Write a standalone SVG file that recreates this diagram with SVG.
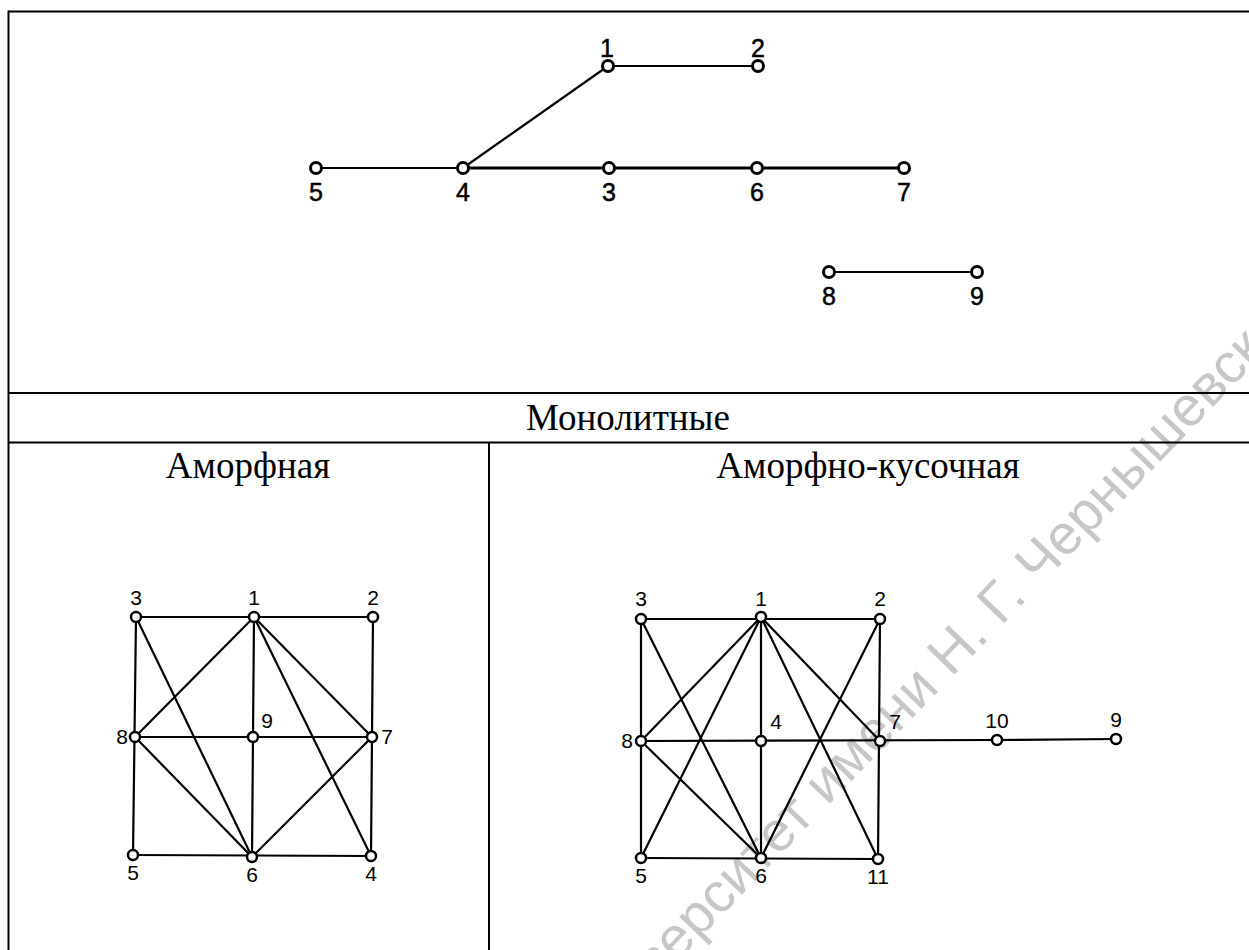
<svg xmlns="http://www.w3.org/2000/svg" width="1249" height="950" viewBox="0 0 1249 950">
<style>
.frame{stroke:#000;stroke-width:2;fill:none}
.e{stroke:#000;stroke-width:2.2;fill:none;stroke-linecap:round}
.et{stroke:#000;stroke-width:3.2;fill:none}
.n{fill:#fff;stroke:#000;stroke-width:2.5}
.nt{fill:#fff;stroke:#000;stroke-width:3}
.lt{font-family:"Liberation Sans",Arial,sans-serif;font-size:25px;fill:#000;text-anchor:middle;stroke:#000;stroke-width:0.5}
.lb{font-family:"Liberation Sans",Arial,sans-serif;font-size:21px;fill:#000;text-anchor:middle}
.h{font-family:"Liberation Serif","Times New Roman",serif;font-size:37px;fill:#000;text-anchor:middle}
.wm{font-family:"Liberation Sans",Arial,sans-serif;font-size:56px;fill:#c6c6c6}
</style>
<rect width="1249" height="950" fill="#fff"/>
<text class="wm" transform="translate(590,1052) rotate(-46)">Университет имени Н. Г. Чернышевского</text>
<g id="table" class="frame">
<line x1="8.5" y1="11.5" x2="1249" y2="11.5"/>
<line x1="8.5" y1="10.5" x2="8.5" y2="950"/>
<line x1="8.5" y1="393" x2="1249" y2="393"/>
<line x1="8.5" y1="442.5" x2="1249" y2="442.5"/>
<line x1="489" y1="442.5" x2="489" y2="950"/>
</g>
<g id="headers">
<text class="h" x="628" y="430">Монолитные</text>
<text class="h" x="248" y="478">Аморфная</text>
<text class="h" x="868" y="478">Аморфно-кусочная</text>
</g>
<g id="connectors">
<g id="top-edges">
<line class="e" x1="608" y1="66" x2="758" y2="66"/>
<line class="e" x1="463" y1="168" x2="608" y2="66"/>
<line class="e" x1="316" y1="168" x2="463" y2="168"/>
<line class="et" x1="463" y1="168" x2="904" y2="168"/>
<line class="e" x1="829" y1="272" x2="977" y2="272"/>
</g>
<g id="left-edges">
<line class="e" x1="136" y1="617" x2="373" y2="617"/>
<line class="e" x1="373" y1="617" x2="371" y2="856"/>
<line class="e" x1="136" y1="617" x2="133" y2="855"/>
<line class="e" x1="133" y1="855" x2="371" y2="856"/>
<line class="e" x1="135" y1="737" x2="372" y2="737"/>
<line class="e" x1="254" y1="617" x2="252" y2="857"/>
<line class="e" x1="254" y1="617" x2="135" y2="737"/>
<line class="e" x1="254" y1="617" x2="372" y2="737"/>
<line class="e" x1="254" y1="617" x2="371" y2="856"/>
<line class="e" x1="136" y1="617" x2="252" y2="857"/>
<line class="e" x1="135" y1="737" x2="252" y2="857"/>
<line class="e" x1="252" y1="857" x2="372" y2="737"/>
</g>
<g id="right-edges">
<line class="e" x1="641" y1="619" x2="880" y2="619"/>
<line class="e" x1="641" y1="619" x2="641" y2="858"/>
<line class="e" x1="880" y1="619" x2="878" y2="859"/>
<line class="e" x1="641" y1="858" x2="878" y2="859"/>
<line class="e" x1="641" y1="741" x2="997" y2="740"/>
<line class="e" x1="997" y1="740" x2="1116" y2="739"/>
<line class="e" x1="761" y1="617" x2="761" y2="858"/>
<line class="e" x1="761" y1="617" x2="641" y2="741"/>
<line class="e" x1="761" y1="617" x2="641" y2="858"/>
<line class="e" x1="641" y1="619" x2="761" y2="858"/>
<line class="e" x1="641" y1="741" x2="761" y2="858"/>
<line class="e" x1="761" y1="617" x2="880" y2="741"/>
<line class="e" x1="761" y1="617" x2="878" y2="859"/>
<line class="e" x1="880" y1="619" x2="761" y2="858"/>
</g>
</g>
<g id="top-graph">
<g id="t1"><circle class="nt" cx="608" cy="66" r="5.5"/><text class="lt" x="607" y="57">1</text></g>
<g id="t2"><circle class="nt" cx="758" cy="66" r="5.5"/><text class="lt" x="758" y="57">2</text></g>
<g id="t5"><circle class="nt" cx="316" cy="168" r="5.5"/><text class="lt" x="316" y="201">5</text></g>
<g id="t4"><circle class="nt" cx="463" cy="168" r="5.5"/><text class="lt" x="463" y="201">4</text></g>
<g id="t3"><circle class="nt" cx="609" cy="168" r="5.5"/><text class="lt" x="609" y="201">3</text></g>
<g id="t6"><circle class="nt" cx="757" cy="168" r="5.5"/><text class="lt" x="757" y="201">6</text></g>
<g id="t7"><circle class="nt" cx="904" cy="168" r="5.5"/><text class="lt" x="904" y="201">7</text></g>
<g id="t8"><circle class="nt" cx="829" cy="272" r="5.5"/><text class="lt" x="829" y="305">8</text></g>
<g id="t9"><circle class="nt" cx="977" cy="272" r="5.5"/><text class="lt" x="977" y="305">9</text></g>
</g>
<g id="left-graph">
<g id="a3"><circle class="n" cx="136" cy="617" r="5"/><text class="lb" x="136" y="605">3</text></g>
<g id="a1"><circle class="n" cx="254" cy="617" r="5"/><text class="lb" x="254" y="605">1</text></g>
<g id="a2"><circle class="n" cx="373" cy="617" r="5"/><text class="lb" x="373" y="605">2</text></g>
<g id="a8"><circle class="n" cx="135" cy="737" r="5"/><text class="lb" x="122" y="744">8</text></g>
<g id="a9"><circle class="n" cx="253" cy="737" r="5"/><text class="lb" x="267" y="728">9</text></g>
<g id="a7"><circle class="n" cx="372" cy="737" r="5"/><text class="lb" x="387" y="744">7</text></g>
<g id="a5"><circle class="n" cx="133" cy="855" r="5"/><text class="lb" x="133" y="880">5</text></g>
<g id="a6"><circle class="n" cx="252" cy="857" r="5"/><text class="lb" x="252" y="882">6</text></g>
<g id="a4"><circle class="n" cx="371" cy="856" r="5"/><text class="lb" x="371" y="881">4</text></g>
</g>
<g id="right-graph">
<g id="b3"><circle class="n" cx="641" cy="619" r="5"/><text class="lb" x="641" y="606">3</text></g>
<g id="b1"><circle class="n" cx="761" cy="617" r="5"/><text class="lb" x="761" y="606">1</text></g>
<g id="b2"><circle class="n" cx="880" cy="619" r="5"/><text class="lb" x="880" y="606">2</text></g>
<g id="b8"><circle class="n" cx="641" cy="741" r="5"/><text class="lb" x="627" y="748">8</text></g>
<g id="b4"><circle class="n" cx="761" cy="741" r="5"/><text class="lb" x="776" y="729">4</text></g>
<g id="b7"><circle class="n" cx="880" cy="741" r="5"/><text class="lb" x="895" y="729">7</text></g>
<g id="b10"><circle class="n" cx="997" cy="740" r="5"/><text class="lb" x="997" y="728">10</text></g>
<g id="b9"><circle class="n" cx="1116" cy="739" r="5"/><text class="lb" x="1116" y="727">9</text></g>
<g id="b5"><circle class="n" cx="641" cy="858" r="5"/><text class="lb" x="641" y="883">5</text></g>
<g id="b6"><circle class="n" cx="761" cy="858" r="5"/><text class="lb" x="761" y="883">6</text></g>
<g id="b11"><circle class="n" cx="878" cy="859" r="5"/><text class="lb" x="878" y="884">11</text></g>
</g>
</svg>
